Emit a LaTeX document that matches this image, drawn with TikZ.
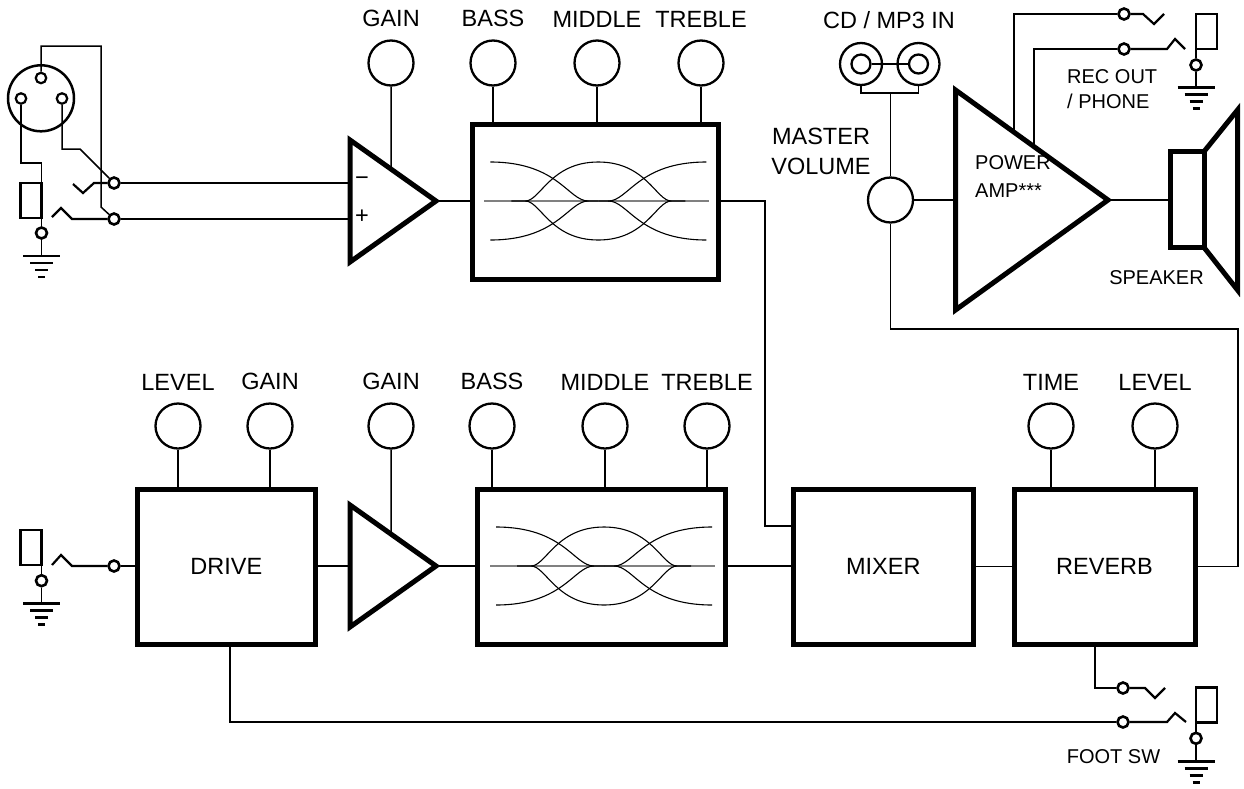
\documentclass[tikz,border=0pt]{standalone}
\usepackage{fontspec}
\setmainfont{Liberation Sans}
\usetikzlibrary{positioning,calc}
\begin{document}
\begin{tikzpicture}[x=1pt,y=-1pt,line join=miter,
    wire/.style={line width=1.5pt},
    knob/.style={draw,circle,line width=2.3pt,minimum size=45pt,inner sep=0pt},
    block/.style={draw,rectangle,line width=5pt,minimum height=155pt,inner sep=0pt,outer sep=0pt,font=\fontsize{23.5}{28}\selectfont},
    lbl/.style={inner sep=0pt,font=\fontsize{23.5}{30}\selectfont,align=center},
    smalllbl/.style={inner sep=0pt,font=\fontsize{20}{25}\selectfont},
    pin/.style={draw,circle,line width=2.6pt,minimum size=11pt,inner sep=0pt},
    xpin/.style={draw,circle,line width=2.2pt,minimum size=10.5pt,inner sep=0pt},
    sleeve/.style={draw,rectangle,line width=2.5pt,minimum width=21pt,minimum height=35pt,inner sep=0pt,outer sep=0pt},
    contact/.style={line width=2.2pt},
    ampline/.style={line width=5pt},
    eqcurves/.pic={
      \draw[gray,line width=1.2pt] (-114,0) -- (111,0);
      \draw[line width=1.1pt] (-108,-39) .. controls (-40,-39) and (-30,0) .. (-10,0) -- (0,0);
      \draw[line width=1.1pt] (-108,39) .. controls (-40,39) and (-30,0) .. (-10,0);
      \draw[line width=1.1pt] (108,-39) .. controls (40,-39) and (30,0) .. (10,0) -- (0,0);
      \draw[line width=1.1pt] (108,39) .. controls (40,39) and (30,0) .. (10,0);
      \draw[line width=1.1pt] (-87,0) -- (-73,0) .. controls (-58,0) and (-48,-39) .. (0,-39) .. controls (48,-39) and (58,0) .. (73,0) -- (87,0);
      \draw[line width=1.1pt] (-73,0) .. controls (-58,0) and (-48,39) .. (0,39) .. controls (48,39) and (58,0) .. (73,0);
    },
    ground/.pic={
      \draw[line width=2.8pt] (-18.5,0) -- (18.5,0) (-11.5,7) -- (11.5,7) (-6.5,14) -- (6.5,14) (-3.5,21) -- (3.5,21);
    },
]
    \useasboundingbox (0,0) rectangle (1244,788);
    %% input jack with xlr
    \node (xlr) at (41,98.3) [draw,circle,line width=2.5pt,minimum size=66pt,inner sep=0pt] {};
    \node (xlT) at (41,78) [xpin] {};
    \node (xlL) at (21,98.5) [xpin] {};
    \node (xlR) at (62,98.5) [xpin] {};
    \node (tipA) at (114,183) [pin] {};
    \node (ringA) at (114,219) [pin] {};
    \node (slvA) at (31,200.5) [sleeve] {};
    \node (gndA) at (41.5,233) [pin] {};
    \coordinate (gA) at (41.5,256);
    \draw [contact] (73,184) -- (83,193) -- (94,183) -- (tipA);
    \draw [contact] (52,217) -- (61,208) -- (72,219) -- (ringA);
    \draw [wire] (xlT.north) -- (xlT.north |- 0,46) -| (101,207) -- (ringA);
    \draw [wire] (xlR.south) -- (xlR.south |- 0,149) -- (80,149) -- (tipA);
    \draw [wire] (xlL.south) -- (xlL.south |- 0,163) -| (slvA.north east);
    \draw [wire] (slvA.south east) -- (gndA);
    \draw [wire] (gndA) -- (gA);
    \pic at (gA) {ground};
    %% clean channel
    \coordinate (a1 top) at (350,140);
    \coordinate (a1 bot) at (350,262);
    \coordinate (a1 tip) at (436,201);
    \draw [ampline] (a1 top) -- (a1 tip) -- (a1 bot) -- cycle;
    \node (a1 minus) at (362,181) [lbl] {−};
    \node (a1 plus) at (362,217) [lbl] {+};
    \draw [wire] (tipA) -- (tipA -| a1 top);
    \draw [wire] (ringA) -- (ringA -| a1 top);
    \node (g1) at (391,63) [knob] {};
    \node (g1 lbl) [lbl,above=12pt of g1] {GAIN};
    \draw [wire] (g1) -- ($(a1 top)!{41/86}!(a1 tip)$);
    \node (eq1) at (595.3,201.5) [block,minimum width=245.5pt] {};
    \pic at (598.3,201) {eqcurves};
    \draw [wire] (a1 tip) -- (a1 tip -| eq1.west);
    \node (b1) at (493,63) [knob] {};
    \node (m1) at (597,63) [knob] {};
    \node (t1) at (701,63) [knob] {};
    \node (b1 lbl) [lbl,above=12pt of b1] {BASS};
    \node (m1 lbl) [lbl,above=12pt of m1] {MIDDLE};
    \node (t1 lbl) [lbl,above=12pt of t1] {TREBLE};
    \draw [wire] (b1) -- (b1 |- eq1.north);
    \draw [wire] (m1) -- (m1 |- eq1.north);
    \draw [wire] (t1) -- (t1 |- eq1.north);
    %% drive channel
    \node (tipB) at (114,566) [pin] {};
    \node (slvB) at (31,547.3) [sleeve] {};
    \node (gndB) at (41.5,580.7) [pin] {};
    \coordinate (gB) at (41.5,603.3);
    \draw [contact] (52,565) -- (61,555) -- (72,566) -- (tipB);
    \draw [wire] (slvB.south east) -- (gndB);
    \draw [wire] (gndB) -- (gB);
    \pic at (gB) {ground};
    \node (drv) at (226.3,566.5) [block,minimum width=177.5pt] {DRIVE};
    \draw [wire] (tipB) -- (tipB -| drv.west);
    \node (dl) at (178,426) [knob] {};
    \node (dg) at (270,426) [knob] {};
    \node (dl lbl) [lbl,above=12pt of dl] {LEVEL};
    \node (dg lbl) [lbl,above=12pt of dg] {GAIN};
    \draw [wire] (dl) -- (dl |- drv.north);
    \draw [wire] (dg) -- (dg |- drv.north);
    \coordinate (a2 top) at (350,505);
    \coordinate (a2 bot) at (350,627);
    \coordinate (a2 tip) at (436,566);
    \draw [ampline] (a2 top) -- (a2 tip) -- (a2 bot) -- cycle;
    \draw [wire] (drv.east |- a2 tip) -- (a2 tip -| a2 top);
    \node (g2) at (391,426) [knob] {};
    \node (g2 lbl) [lbl,above=12pt of g2] {GAIN};
    \draw [wire] (g2) -- ($(a2 top)!{41/86}!(a2 tip)$);
    \node (eq2) at (601.3,566.5) [block,minimum width=248.5pt] {};
    \pic at (604,566) {eqcurves};
    \draw [wire] (a2 tip) -- (a2 tip -| eq2.west);
    \node (b2) at (492,426) [knob] {};
    \node (m2) at (605,426) [knob] {};
    \node (t2) at (707,426) [knob] {};
    \node (b2 lbl) [lbl,above=12pt of b2] {BASS};
    \node (m2 lbl) [lbl,above=12pt of m2] {MIDDLE};
    \node (t2 lbl) [lbl,above=12pt of t2] {TREBLE};
    \draw [wire] (b2) -- (b2 |- eq2.north);
    \draw [wire] (m2) -- (m2 |- eq2.north);
    \draw [wire] (t2) -- (t2 |- eq2.north);
    %% mixer and reverb
    \node (mix) at (883.3,566.5) [block,minimum width=180.5pt] {MIXER};
    \node (rev) at (1104.5,566.5) [block,minimum width=181pt] {REVERB};
    \draw [wire] (eq2.east |- a2 tip) -- (mix.west |- a2 tip);
    \draw [wire] (eq1.east |- a1 tip) -- (765,201) |- (mix.west |- 0,526);
    \draw [wire] (mix.east) -- (rev.west);
    \node (rt) at (1051,426) [knob] {};
    \node (rl) at (1155,426) [knob] {};
    \node (rt lbl) [lbl,above=12pt of rt] {TIME};
    \node (rl lbl) [lbl,above=12pt of rl] {LEVEL};
    \draw [wire] (rt) -- (rt |- rev.north);
    \draw [wire] (rl) -- (rl |- rev.north);
    %% master volume, cd in, power amp
    \node (mv) at (890.5,200) [knob] {};
    \node (mv lbl) at (821,151.5) [lbl] {MASTER\\VOLUME};
    \draw [wire] (rev.east) -| (1238,329) -| (mv.south);
    \node (cdL) at (861,64) [draw,circle,line width=2.3pt,minimum size=42pt,inner sep=0pt] {};
    \node (cdR) at (918.5,64) [draw,circle,line width=2.3pt,minimum size=42pt,inner sep=0pt] {};
    \node (cdLi) at (861,64) [draw,circle,line width=2.3pt,minimum size=19pt,inner sep=0pt] {};
    \node (cdRi) at (918.5,64) [draw,circle,line width=2.3pt,minimum size=19pt,inner sep=0pt] {};
    \node (cd lbl) at (889,20) [lbl] {CD / MP3 IN};
    \draw [wire] (cdLi) -- (cdRi);
    \draw [wire] (cdL.south) -- (cdL.south |- 0,93) -- (cdR.south |- 0,93) -- (cdR.south);
    \draw [wire] (mv.north) -- (mv.north |- 0,93);
    \coordinate (pa top) at (955.5,90);
    \coordinate (pa bot) at (955.5,310);
    \coordinate (pa tip) at (1108,200);
    \draw [ampline] (pa top) -- (pa tip) -- (pa bot) -- cycle;
    \node (pa lbl) at (975,177) [smalllbl,align=left,anchor=west,font=\fontsize{20}{28}\selectfont] {POWER\\AMP***};
    \draw [wire] (mv.east) -- (mv.east -| pa top);
    %% rec out / phone
    \coordinate (pa o1) at ($(pa top)!{58.5/152.5}!(pa tip)$);
    \coordinate (pa o2) at ($(pa top)!{78.5/152.5}!(pa tip)$);
    \node (recT) at (1124,14) [pin] {};
    \node (recR) at (1124,49) [pin] {};
    \node (slvC) at (1206.5,31.5) [sleeve] {};
    \node (gndC) at (1196,65) [pin] {};
    \coordinate (gC) at (1196,87.3);
    \draw [wire] (pa o1) |- (recT);
    \draw [wire] (pa o2) |- (recR);
    \draw [contact] (recT) -- (1143,14) -- (1154,24) -- (1164,14);
    \draw [contact] (recR) -- (1167,49) -- (1175,39) -- (1185,49);
    \draw [wire] (slvC.south west) -- (gndC);
    \draw [wire] (gndC) -- (gC);
    \pic at (gC) {ground};
    \node (rec lbl) at (1067,89.2) [smalllbl,align=left,anchor=west] {REC OUT\\/ PHONE};
    %% speaker
    \node (spk) at (1187.3,199.5) [draw,rectangle,line width=5pt,minimum width=33.5pt,minimum height=96pt,inner sep=0pt,outer sep=0pt] {};
    \draw [ampline] (spk.north east) -- (1237.5,110) -- (1237.5,290) -- (spk.south east);
    \draw [wire] (pa tip) -- (pa tip -| spk.west);
    \node (spk lbl) at (1156.5,277.5) [smalllbl] {SPEAKER};
    %% foot switch
    \node (fsT) at (1123,688) [pin] {};
    \node (fsR) at (1123,722) [pin] {};
    \node (slvD) at (1206.5,705) [sleeve] {};
    \node (gndD) at (1196,738.3) [pin] {};
    \coordinate (gD) at (1196,761.7);
    \draw [wire] (rev.south -| 1095,0) |- (fsT);
    \draw [wire] (drv.south -| 230,0) |- (fsR);
    \draw [contact] (fsT) -- (1145,688) -- (1155,698) -- (1165,688);
    \draw [contact] (fsR) -- (1167,722) -- (1175,713) -- (1186,722);
    \draw [wire] (slvD.south west) -- (gndD);
    \draw [wire] (gndD) -- (gD);
    \pic at (gD) {ground};
    \node (fs lbl) at (1113.5,757) [smalllbl] {FOOT SW};
    %
\end{tikzpicture}
\end{document}
